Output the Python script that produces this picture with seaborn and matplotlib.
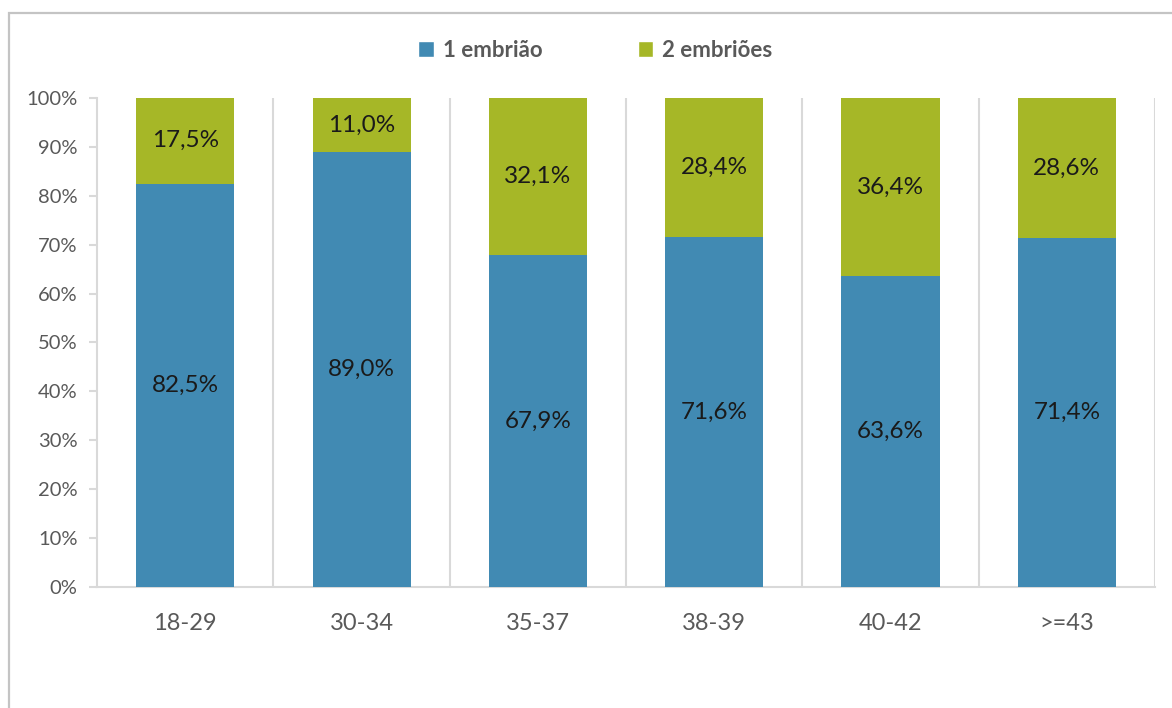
import pandas as pd
import numpy as np
import matplotlib.pyplot as plt
import seaborn as sns
from matplotlib.patches import Patch, Rectangle
from matplotlib.ticker import PercentFormatter, FixedLocator

# Data
age_groups = ["18-29", "30-34", "35-37", "38-39", "40-42", ">=43"]
one_embryo = [82.5, 89.0, 67.9, 71.6, 63.6, 71.4]
two_embryos = [17.5, 11.0, 32.1, 28.4, 36.4, 28.6]
series_names = ["1 embrião", "2 embriões"]

blue = "#418AB3"
green = "#A6B727"
grid_grey = "#D9D9D9"
text_grey = "#595959"

sns.set_style("white")
plt.rcParams["font.family"] = ["Lato", "DejaVu Sans"]

df = pd.DataFrame({"age": age_groups, "one": one_embryo, "two": two_embryos})
df["total"] = df["one"] + df["two"]

fig = plt.figure(figsize=(11.72, 7.08), dpi=100)
ax = fig.add_axes([0.0828, 0.1709, 0.9027, 0.6907])

# stacked bars: total (green) behind, first series (blue) in front
sns.barplot(data=df, x="age", y="total", color=green, width=0.556,
            saturation=1, linewidth=0, ax=ax, zorder=3)
sns.barplot(data=df, x="age", y="one", color=blue, width=0.556,
            saturation=1, linewidth=0, ax=ax, zorder=4)

# data labels centred in each segment
for i, (a, b) in enumerate(zip(one_embryo, two_embryos)):
    ax.text(i, a / 2, f"{a:.1f}%".replace(".", ","), ha="center", va="center",
            fontsize=17.5, color="#1A1A1A", zorder=5)
    ax.text(i, a + b / 2, f"{b:.1f}%".replace(".", ","), ha="center", va="center",
            fontsize=17.5, color="#1A1A1A", zorder=5)

ax.set_ylim(0, 100)
ax.set_xlim(-0.5, len(age_groups) - 0.5)
ax.yaxis.set_major_locator(FixedLocator(np.arange(0, 101, 10)))
ax.yaxis.set_major_formatter(PercentFormatter(decimals=0))
ax.set_xlabel("")
ax.set_ylabel("")

# vertical separators between categories
ax.xaxis.set_minor_locator(FixedLocator(np.arange(0.5, len(age_groups), 1)))
ax.grid(which="minor", axis="x", color=grid_grey, linewidth=1.5, zorder=0)
ax.tick_params(axis="x", which="both", length=0, pad=19, labelsize=17,
               labelcolor=text_grey)
ax.tick_params(axis="y", which="major", length=6, width=1.5, color=grid_grey,
               direction="out", left=True, labelsize=14.5, labelcolor=text_grey, pad=8)

for side in ["top", "right"]:
    ax.spines[side].set_visible(False)
for side in ["left", "bottom"]:
    ax.spines[side].set_color(grid_grey)
    ax.spines[side].set_linewidth(1.5)

handles = [Patch(facecolor=blue, label=series_names[0]),
           Patch(facecolor=green, label=series_names[1])]
leg = fig.legend(handles=handles, loc="center", bbox_to_anchor=(0.508, 0.929),
                 ncol=2, frameon=False, handlelength=0.7, handleheight=0.7,
                 handletextpad=0.4, columnspacing=4.3,
                 prop={"size": 16, "weight": "bold"})
for t in leg.get_texts():
    t.set_color(text_grey)

# outer chart frame (cut off at right and bottom)
fig.patches.append(Rectangle((9 / 1172, -0.1), 1.2, (708 - 13) / 708 + 0.1,
                             transform=fig.transFigure, fill=False,
                             edgecolor="#C4C4C4", linewidth=1.6))

fig.savefig("out.png", dpi=100)
